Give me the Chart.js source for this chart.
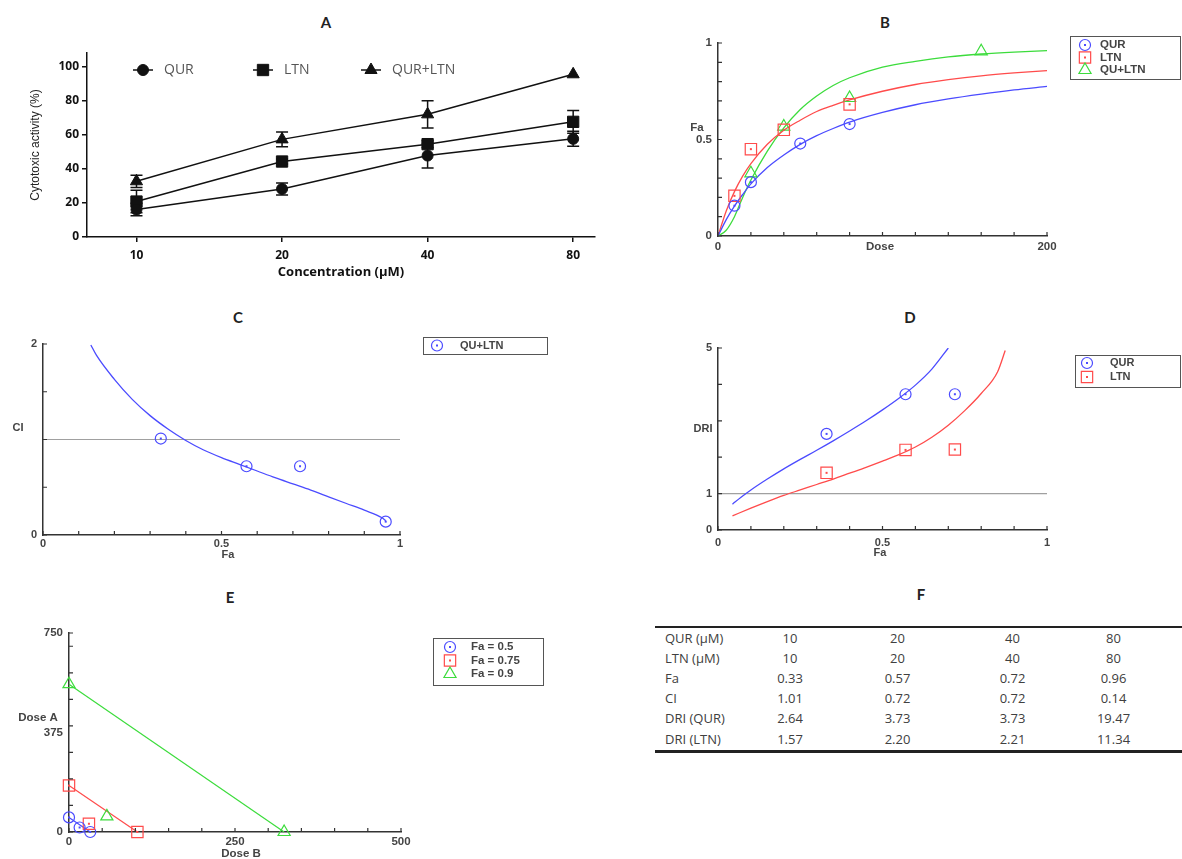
<!DOCTYPE html>
<html>
<head>
<meta charset="utf-8">
<script src="https://cdn.jsdelivr.net/npm/chart.js@4.4.1/dist/chart.umd.min.js"></script>
<style>
  body { margin: 0; background: #fff; width: 1182px; height: 859px; position: relative; overflow: hidden; }
  canvas { position: absolute; }
  .ttl { position: absolute; font: bold 15px Lato, sans-serif; color: #222; transform: translate(-50%, -50%); }
  #tbl { position: absolute; left: 655px; top: 626px; border-collapse: collapse; table-layout: fixed;
         font: 13px "Open Sans", sans-serif; color: #404040; border-top: 2px solid #222; border-bottom: 3px solid #222; }
  #tbl td { height: 20px; padding: 0; text-align: center; white-space: nowrap; }
  #tbl tr:last-child td { height: 22px; }
  #tbl td:first-child { text-align: left; padding-left: 10px; }
  #tbl td:last-child { padding-right: 30px; }
</style>
</head>
<body>
<div class="ttl" style="left:326px;top:22px">A</div>
<div class="ttl" style="left:885px;top:22px">B</div>
<div class="ttl" style="left:238px;top:317px">C</div>
<div class="ttl" style="left:910px;top:317px">D</div>
<div class="ttl" style="left:230px;top:597px">E</div>
<div class="ttl" style="left:921px;top:594px">F</div>

<canvas id="cA" width="620" height="250" style="left:0;top:40px"></canvas>
<canvas id="cB" width="492" height="230" style="left:690px;top:30px"></canvas>
<canvas id="cC" width="640" height="235" style="left:0;top:330px"></canvas>
<canvas id="cD" width="492" height="235" style="left:690px;top:330px"></canvas>
<canvas id="cE" width="640" height="249" style="left:0;top:610px"></canvas>
<table id="tbl">
  <colgroup><col style="width:80px"><col style="width:110px"><col style="width:105px"><col style="width:125px"><col style="width:107px"></colgroup>
</table>

<script>
// ---- A: cytotoxic activity
const concLabels = ['10', '20', '40', '80'];
const aTicks = [0, 20, 40, 60, 80, 100];
const qurMean = [16.1, 28.2, 47.8, 57.6];
const qurErr = [3.7, 3.5, 7.3, 4.4];
const ltnMean = [20.8, 44.3, 54.5, 67.6];
const ltnErr = [6.6, 1.5, 2.0, 6.7];
const comboMean = [32.7, 57.3, 72.0, 95.5];
const comboErr = [3.6, 4.3, 8.0, 0];

// ---- B: dose-effect
const doseTicks = [0, 20, 40, 60, 80, 100, 120, 140, 160, 180, 200];
const doseTickLabels = ['0', '', '', '', '', '', '', '', '', '', '200'];
const faTicks = [0, 0.1, 0.2, 0.3, 0.4, 0.5, 0.6, 0.7, 0.8, 0.9, 1];
const faTickLabels = ['0', '', '', '', '', '0.5', '', '', '', '', '1'];
const qurDose = [10, 20, 50, 80];
const qurFa = [0.157, 0.279, 0.479, 0.580];
const ltnDose = [10, 20, 40, 80];
const ltnFa = [0.208, 0.450, 0.550, 0.682];
const comboDose = [20, 40, 80, 160];
const comboFa = [0.325, 0.567, 0.715, 0.957];
const curveDose = [0, 5, 10, 15, 20, 30, 40, 50, 60, 70, 80, 100, 120, 140, 160, 180, 200];
const qurCurveFa = [0, 0.085, 0.155, 0.215, 0.27, 0.355, 0.42, 0.475, 0.52, 0.557, 0.59, 0.64, 0.68, 0.71, 0.735, 0.757, 0.775];
const ltnCurveFa = [0, 0.13, 0.23, 0.31, 0.375, 0.475, 0.548, 0.60, 0.645, 0.677, 0.705, 0.75, 0.785, 0.81, 0.83, 0.845, 0.857];
const comboCurveFa = [0, 0.03, 0.10, 0.20, 0.29, 0.44, 0.56, 0.655, 0.725, 0.78, 0.82, 0.875, 0.905, 0.928, 0.943, 0.953, 0.96];

// ---- C: combination index
const ciTicks = [0, 0.5, 1, 1.5, 2];
const ciTickLabels = ['0', '', '', '', '2'];
const ciFa = [0.33, 0.57, 0.72, 0.96];
const ciVal = [1.01, 0.72, 0.72, 0.14];
const ciCurveFa = [0.134, 0.15, 0.2, 0.25, 0.3, 0.35, 0.4, 0.45, 0.5, 0.55, 0.6, 0.65, 0.7, 0.75, 0.8, 0.85, 0.9, 0.95, 0.96];
const ciCurve = [1.99, 1.88, 1.63, 1.42, 1.25, 1.11, 0.99, 0.89, 0.81, 0.74, 0.67, 0.60, 0.535, 0.47, 0.40, 0.33, 0.26, 0.18, 0.15];

// ---- D: dose reduction index
const driTicks = [0, 1, 2, 3, 4, 5];
const driTickLabels = ['0', '1', '', '', '', '5'];
const driFa = [0.33, 0.57, 0.72];
const driQur = [2.64, 3.73, 3.73];
const driLtn = [1.57, 2.20, 2.21];
const qurDriCurveFa = [0.044, 0.07, 0.1, 0.15, 0.2, 0.25, 0.3, 0.35, 0.4, 0.45, 0.5, 0.55, 0.6, 0.65, 0.7];
const qurDriCurve = [0.71, 0.90, 1.1, 1.40, 1.68, 1.94, 2.19, 2.45, 2.72, 3.0, 3.3, 3.62, 3.98, 4.42, 5.0];
const ltnDriCurveFa = [0.044, 0.1, 0.15, 0.2, 0.25, 0.3, 0.35, 0.4, 0.45, 0.5, 0.55, 0.6, 0.65, 0.7, 0.75, 0.8, 0.85, 0.873];
const ltnDriCurve = [0.39, 0.6, 0.78, 0.95, 1.10, 1.25, 1.40, 1.56, 1.72, 1.89, 2.07, 2.28, 2.55, 2.88, 3.28, 3.75, 4.35, 4.93];

// ---- E: isobologram
const isoLabels = ['Fa = 0.5', 'Fa = 0.75', 'Fa = 0.9'];
const isoDoseA = [55, 175, 557];
const isoDoseB = [32, 103, 324];
const mixDoseA = [17, 31, 59];
const mixDoseB = [16, 30, 57];
const eyTicks = [0, 100, 200, 300, 375, 400, 500, 600, 700, 750];
const eyTickLabels = ['0', '', '', '', '375', '', '', '', '', '750'];
const exTicks = [0, 50, 100, 150, 200, 250, 300, 350, 400, 450, 500];
const exTickLabels = ['0', '', '', '', '', '250', '', '', '', '', '500'];

// ---- F: table
const rowLabels = ['QUR (µM)', 'LTN (µM)', 'Fa', 'CI', 'DRI (QUR)', 'DRI (LTN)'];
const rowQurDose = ['10', '20', '40', '80'];
const rowLtnDose = ['10', '20', '40', '80'];
const rowFa = ['0.33', '0.57', '0.72', '0.96'];
const rowCi = ['1.01', '0.72', '0.72', '0.14'];
const rowDriQur = ['2.64', '3.73', '3.73', '19.47'];
const rowDriLtn = ['1.57', '2.20', '2.21', '11.34'];

const blue = '#4b4bff', red = '#ff4b4b', green = '#3cdc3c';
const txt = '#444';

Chart.defaults.font.family = '"Liberation Sans", Arial, sans-serif';
Chart.defaults.animation = false;
Chart.defaults.responsive = false;
Chart.defaults.plugins.legend.display = false;
Chart.defaults.plugins.tooltip.enabled = false;

function drawMarker(ctx, style, r, x, y, filled) {
  ctx.beginPath();
  if (style === 'circle') {
    ctx.arc(x, y, r, 0, Math.PI * 2);
  } else if (style === 'rect') {
    const s = r * Math.SQRT1_2;
    ctx.rect(x - s, y - s, 2 * s, 2 * s);
  } else {
    for (let k = 0; k < 3; k++) {
      const a = k * Math.PI * 2 / 3;
      ctx[k ? 'lineTo' : 'moveTo'](x + Math.sin(a) * r, y - Math.cos(a) * r);
    }
    ctx.closePath();
  }
  if (filled) ctx.fill();
  ctx.stroke();
}

function pts(xs, ys) { return xs.map((v, i) => ({ x: v, y: ys[i] })); }

// ================= A =================
const markA = ['circle', 'rect', 'triangle'];
const radA = [5.5, 8, 7];

function seriesA(label, mean, err, i) {
  return {
    label, err, data: mean.map((v, j) => ({ x: j, y: v })), showLine: true,
    borderColor: '#111', borderWidth: 1.5, pointStyle: markA[i], pointRadius: radA[i],
    pointBackgroundColor: '#111', pointBorderColor: '#111', pointBorderWidth: 1
  };
}

const errorBars = {
  id: 'errorBars',
  beforeDatasetsDraw(chart) {
    const { ctx, scales: { x, y } } = chart;
    ctx.save();
    ctx.strokeStyle = '#111';
    ctx.lineWidth = 1.5;
    chart.data.datasets.forEach(ds => {
      ds.data.forEach((p, i) => {
        const e = ds.err[i];
        if (!e) return;
        const px = x.getPixelForValue(p.x);
        const top = y.getPixelForValue(p.y + e), bot = y.getPixelForValue(p.y - e);
        ctx.beginPath();
        ctx.moveTo(px, top); ctx.lineTo(px, bot);
        ctx.moveTo(px - 6, top); ctx.lineTo(px + 6, top);
        ctx.moveTo(px - 6, bot); ctx.lineTo(px + 6, bot);
        ctx.stroke();
      });
    });
    ctx.restore();
  }
};

const legendA = {
  id: 'legendA',
  afterDraw(chart) {
    const ctx = chart.ctx;
    const xs = [143, 263, 371], y = 30;
    ctx.save();
    ctx.font = '14px "Open Sans"';
    ctx.textBaseline = 'middle';
    chart.data.datasets.forEach((ds, i) => {
      ctx.strokeStyle = '#111'; ctx.fillStyle = '#111'; ctx.lineWidth = 1.5;
      ctx.beginPath(); ctx.moveTo(xs[i] - 10, y); ctx.lineTo(xs[i] + 10, y); ctx.stroke();
      ctx.lineWidth = 1;
      drawMarker(ctx, ds.pointStyle, ds.pointRadius, xs[i], y, true);
      ctx.fillStyle = '#555';
      ctx.fillText(ds.label, xs[i] + 21, y);
    });
    ctx.restore();
  }
};

const boldA = { family: '"Open Sans"', size: 12, weight: 'bold' };

new Chart(document.getElementById('cA'), {
  type: 'scatter',
  data: {
    datasets: [
      seriesA('QUR', qurMean, qurErr, 0),
      seriesA('LTN', ltnMean, ltnErr, 1),
      seriesA('QUR+LTN', comboMean, comboErr, 2)
    ]
  },
  options: {
    layout: { padding: { top: 13, right: 25, left: 0, bottom: 0 } },
    scales: {
      x: {
        type: 'linear', min: -0.34, max: 3.15,
        afterBuildTicks: s => { s.ticks = concLabels.map((_, i) => ({ value: i })); },
        afterFit: s => { s.height = 53; },
        grid: { drawOnChartArea: false, color: '#111', lineWidth: 1.5, tickLength: 5 },
        border: { color: '#111', width: 1.5 },
        ticks: { callback: (v, i) => concLabels[i], font: boldA, color: '#111', padding: 6, maxRotation: 0, autoSkip: false },
        title: { display: true, text: 'Concentration (µM)', color: '#111', font: { family: '"Open Sans"', size: 13, weight: 'bold' }, padding: { top: 0, bottom: 10 } }
      },
      y: {
        min: 0, max: 108,
        afterBuildTicks: s => { s.ticks = aTicks.map(v => ({ value: v })); },
        afterFit: s => { s.width = 87; },
        grid: { drawOnChartArea: false, color: '#111', lineWidth: 1.5, tickLength: 5 },
        border: { color: '#111', width: 1.5 },
        ticks: { font: boldA, color: '#111', padding: 3 },
        title: { display: true, text: 'Cytotoxic activity (%)', color: '#222', font: { family: '"Liberation Sans Narrow", "Liberation Sans"', size: 12 }, padding: { top: 28, bottom: 0 } }
      }
    }
  },
  plugins: [errorBars, legendA]
});

// ================= B-E helpers =================
function axis(min, max, ticks, labels, size, pad, fs) {
  return {
    type: 'linear', min, max,
    afterBuildTicks: s => { s.ticks = ticks.map(v => ({ value: v })); },
    afterFit: s => { if (s.isHorizontal()) s.height = size; else s.width = size; },
    grid: { display: false, drawTicks: false },
    border: { display: true, color: '#333', width: 1.5 },
    ticks: { autoSkip: false, maxRotation: 0, padding: pad, color: txt, font: { size: fs, weight: 'bold' }, callback: (v, i) => labels[i] }
  };
}

function markerSet(label, xs, ys, color, style, r) {
  return {
    label, legend: true, dot: style !== 'triangle', data: pts(xs, ys), showLine: false,
    pointStyle: style, pointRadius: r, pointBorderColor: color, borderColor: color,
    pointBackgroundColor: 'rgba(0,0,0,0)', pointBorderWidth: 1.2, clip: false
  };
}

function curveSet(xs, ys, color) {
  return { data: pts(xs, ys), showLine: true, borderColor: color, borderWidth: 1.3, pointRadius: 0, cubicInterpolationMode: 'monotone' };
}

function refLine(x0, x1) {
  return { data: [{ x: x0, y: 1 }, { x: x1, y: 1 }], showLine: true, borderColor: '#a0a0a0', borderWidth: 1.2, pointRadius: 0 };
}

function deco(cfg) {
  return {
    id: 'deco',
    afterDatasetsDraw(chart) {
      const { ctx, chartArea: ca, scales: { x, y } } = chart;
      ctx.save();
      ctx.strokeStyle = '#333';
      ctx.lineWidth = 1.2;
      ctx.beginPath();
      x.ticks.forEach(t => {
        const px = x.getPixelForValue(t.value);
        ctx.moveTo(px, ca.bottom); ctx.lineTo(px, ca.bottom - 4);
      });
      y.ticks.forEach(t => {
        if ((cfg.noMarkY || []).includes(t.value)) return;
        const py = y.getPixelForValue(t.value);
        ctx.moveTo(ca.left, py); ctx.lineTo(ca.left + 4, py);
      });
      ctx.stroke();
      chart.data.datasets.forEach((ds, i) => {
        if (!ds.dot) return;
        ctx.fillStyle = ds.pointBorderColor;
        chart.getDatasetMeta(i).data.forEach(el => ctx.fillRect(el.x - 1, el.y - 1, 2, 2));
      });
      ctx.restore();
    },
    afterDraw(chart) {
      const ctx = chart.ctx;
      ctx.save();
      ctx.font = 'bold ' + cfg.fs + 'px "Liberation Sans"';
      ctx.fillStyle = txt;
      ctx.textAlign = 'center';
      ctx.textBaseline = 'middle';
      cfg.texts.forEach(t => ctx.fillText(t[0], t[1], t[2]));
      const L = cfg.legend;
      ctx.strokeStyle = '#555';
      ctx.lineWidth = 1;
      ctx.strokeRect(L.x + 0.5, L.y + 0.5, L.w, L.h);
      ctx.textAlign = 'left';
      chart.data.datasets.filter(d => d.legend).forEach((d, i) => {
        const yy = L.y0 + i * L.dy;
        ctx.strokeStyle = d.pointBorderColor;
        ctx.lineWidth = 1.2;
        drawMarker(ctx, d.pointStyle, d.pointRadius, L.mx, yy, false);
        if (d.dot) { ctx.fillStyle = d.pointBorderColor; ctx.fillRect(L.mx - 1, yy - 1, 2, 2); }
        ctx.fillStyle = txt;
        ctx.fillText(d.label, L.tx, yy);
      });
      ctx.restore();
    }
  };
}

// ================= B =================
new Chart(document.getElementById('cB'), {
  type: 'scatter',
  data: {
    datasets: [
      markerSet('QUR', qurDose, qurFa, blue, 'circle', 5.5),
      markerSet('LTN', ltnDose, ltnFa, red, 'rect', 8),
      markerSet('QU+LTN', comboDose, comboFa, green, 'triangle', 7),
      curveSet(curveDose, qurCurveFa, blue),
      curveSet(curveDose, ltnCurveFa, red),
      curveSet(curveDose, comboCurveFa, green)
    ]
  },
  options: {
    layout: { padding: { top: 13, right: 135, left: 0, bottom: 0 } },
    scales: {
      x: axis(0, 200, doseTicks, doseTickLabels, 24, 4, 11.5),
      y: axis(0, 1, faTicks, faTickLabels, 28, 6, 11.5)
    }
  },
  plugins: [deco({
    fs: 11.5,
    texts: [['Fa', 7, 98], ['Dose', 190, 217]],
    legend: { x: 380, y: 6, w: 110, h: 43, y0: 15, dy: 12.5, mx: 395, tx: 410 }
  })]
});

// ================= C =================
new Chart(document.getElementById('cC'), {
  type: 'scatter',
  data: {
    datasets: [
      markerSet('QU+LTN', ciFa, ciVal, blue, 'circle', 5.5),
      curveSet(ciCurveFa, ciCurve, blue),
      refLine(0, 1)
    ]
  },
  options: {
    layout: { padding: { top: 14, right: 240, left: 0, bottom: 0 } },
    scales: {
      x: axis(0, 1, faTicks, faTickLabels, 30, 2, 11),
      y: axis(0, 2, ciTicks, ciTickLabels, 43, 6, 11)
    }
  },
  plugins: [deco({
    fs: 11,
    texts: [['CI', 18, 98], ['Fa', 228, 225]],
    legend: { x: 423, y: 7, w: 124, h: 17, y0: 15.5, dy: 12, mx: 437, tx: 460 }
  })]
});

// ================= D =================
new Chart(document.getElementById('cD'), {
  type: 'scatter',
  data: {
    datasets: [
      markerSet('QUR', driFa, driQur, blue, 'circle', 5.5),
      markerSet('LTN', driFa, driLtn, red, 'rect', 8),
      curveSet(qurDriCurveFa, qurDriCurve, blue),
      curveSet(ltnDriCurveFa, ltnDriCurve, red),
      refLine(0, 1)
    ]
  },
  options: {
    layout: { padding: { top: 18, right: 135, left: 0, bottom: 0 } },
    scales: {
      x: axis(0, 1, faTicks, faTickLabels, 35, 6, 11),
      y: axis(0, 5, driTicks, driTickLabels, 28, 6, 11)
    }
  },
  plugins: [deco({
    fs: 11,
    texts: [['DRI', 13, 99], ['Fa', 190, 223]],
    legend: { x: 385, y: 25, w: 105, h: 32, y0: 33, dy: 14, mx: 397, tx: 420 }
  })]
});

// ================= E =================
const isoColors = [blue, red, green];
const isoMarks = ['circle', 'rect', 'triangle'];
const isoRad = [5.5, 8, 7];
const isoSets = isoLabels.map((label, i) => Object.assign(
  markerSet(label, [0, isoDoseB[i]], [isoDoseA[i], 0], isoColors[i], isoMarks[i], isoRad[i]),
  { showLine: true, borderWidth: 1.2 }
));
const mixSets = isoLabels.map((label, i) => Object.assign(
  markerSet(label, [mixDoseB[i]], [mixDoseA[i]], isoColors[i], isoMarks[i], isoRad[i]),
  { legend: false }
));

new Chart(document.getElementById('cE'), {
  type: 'scatter',
  data: { datasets: [...mixSets, ...isoSets] },
  options: {
    layout: { padding: { top: 23, right: 239, left: 0, bottom: 0 } },
    scales: {
      x: axis(0, 500, exTicks, exTickLabels, 27, 3, 11.5),
      y: axis(0, 750, eyTicks, eyTickLabels, 69, 6, 11.5)
    }
  },
  plugins: [deco({
    fs: 11.5,
    noMarkY: [375],
    texts: [['Dose A', 38, 108], ['Dose B', 241, 244]],
    legend: { x: 433, y: 28, w: 110, h: 47, y0: 37, dy: 13.5, mx: 450, tx: 471 }
  })]
});

// ================= F =================
const tbl = document.getElementById('tbl');
[rowQurDose, rowLtnDose, rowFa, rowCi, rowDriQur, rowDriLtn].forEach((vals, r) => {
  const tr = tbl.insertRow();
  tr.insertCell().textContent = rowLabels[r];
  vals.forEach(v => { tr.insertCell().textContent = v; });
});
</script>
</body>
</html>
